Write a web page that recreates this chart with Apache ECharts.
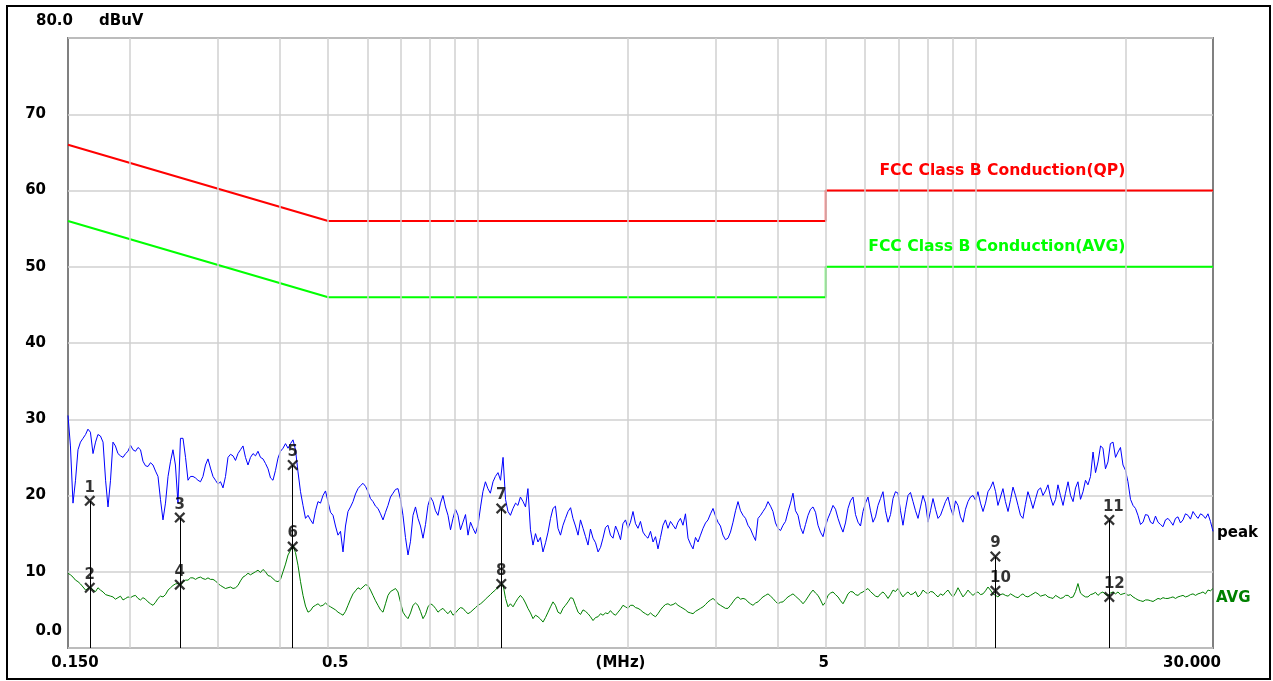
<!DOCTYPE html>
<html>
<head>
<meta charset="utf-8">
<title>Conducted emission scan</title>
<script src="https://cdn.jsdelivr.net/npm/echarts@6/dist/echarts.min.js"></script>
<style>
  html, body { margin: 0; padding: 0; background: #ffffff; }
  #chart { width: 1273px; height: 681px; }
</style>
</head>
<body>
<div id="chart"></div>
<script>
// Sweep frequencies (MHz), main grid
const freqs = [
  0.1500,0.1535,0.1571,0.1608,0.1645,0.1684,0.1723,0.1764,0.1805,0.1847,
  0.1890,0.1935,0.1980,0.2026,0.2074,0.2122,0.2172,0.2223,0.2275,0.2328,
  0.2383,0.2438,0.2495,0.2554,0.2614,0.2675,0.2737,0.2801,0.2867,0.2934,
  0.3003,0.3073,0.3145,0.3219,0.3294,0.3371,0.3450,0.3531,0.3613,0.3698,
  0.3785,0.3873,0.3964,0.4057,0.4152,0.4249,0.4348,0.4450,0.4554,0.4661,
  0.4770,0.4881,0.4996,0.5113,0.5232,0.5355,0.5480,0.5608,0.5740,0.5874,
  0.6011,0.6152,0.6296,0.6444,0.6594,0.6749,0.6907,0.7068,0.7234,0.7403,
  0.7576,0.7754,0.7935,0.8121,0.8311,0.8505,0.8705,0.8908,0.9117,0.9330,
  0.9549,0.9772,1.000,1.023,1.047,1.072,1.097,1.123,1.149,1.176,
  1.203,1.232,1.260,1.290,1.320,1.351,1.383,1.415,1.448,1.482,
  1.517,1.552,1.589,1.626,1.664,1.703,1.743,1.783,1.825,1.868,
  1.912,1.956,2.002,2.049,2.097,2.146,2.196,2.248,2.300,2.354,
  2.409,2.466,2.523,2.582,2.643,2.705,2.768,2.833,2.899,2.967,
  3.036,3.107,3.180,3.255,3.331,3.409,3.488,3.570,3.654,3.739,
  3.827,3.916,4.008,4.102,4.198,4.296,4.397,4.500,4.605,4.713,
  4.823,4.936,5.051,5.170,5.291,5.414,5.541,5.671,5.804,5.939,
  6.078,6.221,6.366,6.515,6.668,6.824,6.984,7.147,7.314,7.486,
  7.661,7.840,8.024,8.211,8.404,8.600,8.802,9.008,9.218,9.434,
  9.655,9.881,10.11,10.35,10.59,10.84,11.09,11.35,11.62,11.89,
  12.17,12.45,12.74,13.04,13.35,13.66,13.98,14.31,14.64,14.99,
  15.34,15.70,16.06,16.44,16.82,17.22,17.62,18.03,18.45,18.89,
  19.33,19.78,20.24,20.72,21.20,21.70,22.21,22.73,23.26,23.80,
  24.36,24.93,25.51,26.11,26.72,27.35,27.99,28.64,29.31,30.00
];

// Sweep frequencies (MHz) lying half a step after each main-grid point
const halfStepFreqs = [
  0.1517,0.1553,0.1589,0.1627,0.1664,0.1704,0.1743,0.1785,0.1826,0.1868,
  0.1912,0.1958,0.2003,0.2050,0.2098,0.2147,0.2197,0.2249,0.2301,0.2355,
  0.2411,0.2466,0.2524,0.2584,0.2644,0.2706,0.2769,0.2834,0.2900,0.2968,
  0.3038,0.3109,0.3182,0.3256,0.3332,0.3410,0.3490,0.3572,0.3655,0.3741,
  0.3829,0.3918,0.4010,0.4104,0.4200,0.4298,0.4399,0.4502,0.4607,0.4715,
  0.4825,0.4938,0.5054,0.5172,0.5293,0.5417,0.5544,0.5673,0.5807,0.5942,
  0.6081,0.6224,0.6369,0.6519,0.6671,0.6828,0.6987,0.7150,0.7318,0.7489,
  0.7664,0.7844,0.8027,0.8215,0.8408,0.8604,0.8806,0.9012,0.9223,0.9439,
  0.9660,0.9886,1.012,1.035,1.059,1.084,1.110,1.136,1.162,1.190,
  1.217,1.246,1.275,1.305,1.335,1.367,1.399,1.431,1.465,1.499,
  1.535,1.570,1.607,1.645,1.683,1.723,1.763,1.804,1.846,1.890,
  1.934,1.979,2.025,2.073,2.121,2.171,2.222,2.274,2.327,2.381,
  2.437,2.495,2.552,2.612,2.674,2.736,2.800,2.866,2.933,3.002,
  3.071,3.143,3.217,3.293,3.370,3.449,3.529,3.612,3.697,3.783,
  3.872,3.962,4.055,4.150,4.247,4.346,4.448,4.552,4.659,4.768,
  4.879,4.993,5.110,5.230,5.353,5.477,5.605,5.737,5.872,6.008,
  6.149,6.293,6.440,6.591,6.746,6.903,7.065,7.230,7.399,7.573,
  7.750,7.931,8.117,8.307,8.502,8.700,8.904,9.113,9.325,9.544,
  9.767,9.996,10.23,10.47,10.71,10.97,11.22,11.48,11.76,12.03,
  12.31,12.59,12.89,13.19,13.51,13.82,14.14,14.48,14.81,15.16,
  15.52,15.88,16.25,16.63,17.02,17.42,17.83,18.24,18.66,19.11,
  19.55,20.01,20.48,20.96,21.45,21.95,22.47,22.99,23.53,24.08,
  24.64,25.22,25.81,26.41,27.03,27.67,28.32,28.97,29.65
];

// Peak detector levels (dBuV) at the main grid
const peakLevels = [
  30.5,19.0,26.0,27.5,28.7,25.5,28.0,27.0,18.5,27.0,
  25.5,25.0,25.8,26.0,26.3,24.5,23.8,24.0,22.5,16.8,
  22.5,26.0,19.0,27.5,22.0,22.5,22.0,22.5,24.8,22.5,
  21.5,21.0,25.0,25.2,25.5,26.5,24.0,25.5,25.8,24.8,
  23.5,22.0,24.9,26.2,26.2,27.3,23.1,18.7,17.4,16.3,
  19.2,20.0,19.2,17.4,14.8,12.6,17.9,19.2,20.9,21.6,
  20.5,19.2,18.3,16.8,18.7,20.3,20.9,17.4,12.2,17.4,
  17.0,14.4,18.7,19.2,17.4,20.0,17.4,17.0,17.4,16.5,
  14.8,15.7,16.1,20.5,20.9,21.8,23.0,25.0,17.9,18.3,
  18.7,19.2,20.9,13.5,13.9,12.6,15.2,18.3,15.7,16.1,
  17.9,17.0,14.8,15.7,13.5,14.4,12.6,14.4,16.1,14.4,
  15.2,16.3,15.7,17.9,15.7,15.2,14.4,13.9,13.0,16.1,
  15.7,16.1,16.5,16.1,14.4,13.0,13.9,15.7,16.8,18.3,
  16.5,14.8,14.4,16.5,19.2,17.4,16.1,14.8,17.0,17.9,
  19.2,17.9,15.7,16.1,17.9,20.3,17.4,15.0,17.4,18.5,
  16.1,14.6,17.0,18.7,17.0,15.2,18.3,19.8,16.5,17.9,
  19.8,16.5,18.7,20.5,16.5,19.6,20.3,16.1,20.0,19.2,
  17.0,20.0,16.5,19.6,17.0,18.3,19.8,17.4,18.7,16.5,
  19.2,20.0,20.5,17.9,20.5,21.8,18.7,20.9,17.9,21.1,
  18.7,17.0,20.5,18.3,20.7,20.0,21.4,18.7,21.4,18.7,
  21.8,19.2,21.8,20.5,21.4,25.7,24.4,26.2,24.4,27.0,
  25.7,24.0,21.8,18.7,17.4,16.5,17.4,16.3,16.5,15.9,
  17.0,16.1,17.2,16.8,17.4,17.9,17.0,17.4,17.6,15.3
];

// Peak detector levels (dBuV) at the half-step points
const peakHalfStep = [
  26.5,22.0,27.0,28.0,28.3,27.0,27.8,22.0,22.0,26.5,
  25.2,25.5,26.6,25.8,26.0,23.9,24.3,23.2,19.5,19.0,
  24.5,24.0,27.5,25.0,22.5,22.3,21.8,24.0,23.6,22.0,
  21.8,22.5,25.4,24.6,26.0,25.0,25.0,25.2,25.0,24.2,
  22.3,23.3,25.8,26.8,26.8,26.0,20.5,17.0,16.8,18.0,
  19.0,20.6,17.8,16.0,15.3,16.0,18.5,20.2,21.3,21.2,
  19.6,18.6,17.6,17.8,19.8,20.8,19.5,14.5,14.0,18.5,
  16.0,16.2,19.8,18.0,19.0,18.5,15.5,18.2,15.5,17.5,
  16.5,15.0,18.5,21.8,20.3,22.5,22.0,19.5,17.4,19.0,
  19.8,18.5,15.5,15.0,14.5,13.8,17.0,18.6,14.8,17.0,
  18.4,16.0,16.8,14.6,15.6,13.8,13.2,15.8,14.8,16.0,
  14.2,16.8,16.5,16.3,16.6,14.7,15.3,14.6,14.5,16.8,
  16.6,15.6,17.0,17.6,13.6,14.5,14.8,16.4,17.6,17.3,
  16.0,14.2,15.2,18.0,18.0,17.0,15.6,14.1,17.4,18.4,
  18.6,16.4,15.4,16.6,19.0,18.0,15.8,16.2,18.2,17.8,
  15.2,16.0,17.8,18.2,16.0,16.4,19.3,17.5,16.0,19.0,
  18.0,17.2,19.6,18.0,17.5,20.5,18.0,18.2,20.4,18.0,
  18.5,19.0,18.0,18.2,17.4,19.2,18.4,19.3,17.2,18.2,
  19.8,19.4,19.0,19.0,21.0,20.5,19.8,19.2,19.5,20.0,
  17.4,18.8,19.5,19.5,21.0,20.6,19.8,19.5,20.0,20.3,
  20.0,21.0,19.5,22.0,22.5,23.0,26.5,23.5,26.8,25.0,
  26.3,23.3,19.5,18.3,16.2,17.5,16.5,17.3,16.2,16.8,
  16.6,17.0,16.4,17.6,16.9,17.4,17.6,17.0,16.6
];

// Average detector levels (dBuV) at the main grid
const avgLevels = [
  9.8,9.3,8.7,8.0,7.8,7.6,7.9,7.35,6.9,6.7,
  6.6,6.3,6.7,6.8,6.5,6.6,6.05,5.6,6.5,6.7,
  7.6,8.2,8.45,8.7,8.9,9.2,9.2,9.1,9.2,9.0,
  8.45,8.0,7.9,7.8,8.2,9.3,9.8,9.8,10.2,10.3,
  9.5,9.1,8.7,10.0,12.2,13.5,10.85,6.9,4.7,5.4,
  5.8,5.6,5.6,5.2,4.7,4.3,5.6,7.1,7.9,8.0,
  8.2,6.9,5.6,4.7,6.9,7.6,7.35,4.7,3.85,5.6,
  5.6,3.85,5.4,5.6,4.7,5.2,4.5,4.3,5.0,5.2,
  4.5,5.0,5.6,6.05,6.7,7.35,8.0,8.3,5.4,5.4,
  6.5,6.5,5.2,3.85,4.1,3.4,4.7,6.05,4.7,5.2,
  6.05,6.5,4.7,5.0,4.5,3.6,4.1,4.3,4.5,4.5,
  4.7,5.6,5.2,5.6,5.2,4.7,4.3,4.3,4.5,5.4,
  5.8,5.7,5.6,5.2,4.7,4.5,5.0,5.4,6.05,6.5,
  5.8,5.4,5.2,6.05,6.7,6.5,6.05,5.6,6.05,6.7,
  7.1,6.5,5.8,6.05,6.7,7.1,6.5,5.8,6.7,7.6,
  6.9,5.6,6.9,7.35,6.7,5.8,7.1,7.35,6.9,7.35,
  7.8,7.1,6.7,7.35,6.5,7.6,7.8,6.7,7.35,7.1,
  6.7,7.6,7.1,7.35,6.7,6.9,7.6,6.7,7.9,6.7,
  7.6,6.9,7.35,7.1,8.0,7.1,6.7,7.1,6.8,6.9,
  6.6,7.1,6.7,7.1,7.1,6.9,6.7,6.5,6.7,6.6,
  6.9,6.7,8.45,6.9,6.7,7.1,6.9,7.35,6.9,7.35,
  7.35,7.1,6.9,6.7,6.3,6.1,6.3,6.1,6.5,6.6,
  6.5,6.7,6.7,6.9,6.8,7.1,7.1,7.35,7.6,7.8
];

// Average detector levels (dBuV) at the half-step points
const avgHalfStep = [
  9.6,8.9,8.4,7.6,8.0,7.4,7.6,7.0,6.8,6.4,
  6.8,6.5,6.6,6.9,6.3,6.4,5.8,6.0,6.8,7.0,
  7.9,8.4,8.2,8.9,9.2,9.0,9.3,9.0,9.0,8.8,
  8.2,7.8,8.0,7.9,8.8,9.5,9.6,10.0,9.9,10.0,
  9.4,8.8,9.0,11.0,12.8,12.5,8.7,5.5,4.9,5.6,
  5.5,5.9,5.4,5.0,4.5,4.8,6.4,7.5,7.7,8.3,
  7.6,6.2,5.0,5.8,7.4,7.8,6.0,4.2,4.6,5.9,
  4.8,4.4,5.8,5.2,5.0,4.8,4.9,4.6,5.3,4.8,
  4.7,5.3,5.8,6.4,7.0,7.6,8.2,6.5,5.8,6.0,
  6.9,5.9,4.6,4.3,3.8,4.0,5.4,5.6,4.5,5.6,
  6.6,5.6,4.4,4.8,4.1,4.0,4.5,4.6,4.9,4.3,
  5.1,5.4,5.6,5.3,5.0,4.5,4.6,4.1,5.0,5.7,
  5.6,5.9,5.4,5.0,4.6,4.8,5.2,5.7,6.3,6.2,
  5.6,5.2,5.6,6.5,6.4,6.4,5.8,5.9,6.4,6.9,
  6.8,6.1,6.0,6.4,6.9,6.8,6.2,6.2,7.2,7.2,
  6.3,6.0,7.2,7.0,6.2,6.4,7.4,7.0,7.2,7.6,
  7.4,6.8,7.1,7.0,7.0,7.4,7.2,7.1,7.0,7.4,
  7.0,7.3,7.4,7.0,7.1,7.3,7.1,7.2,7.3,7.1,
  7.2,7.2,7.0,7.5,7.6,6.9,7.0,6.9,7.1,6.7,
  6.9,6.8,6.9,7.3,6.8,7.0,6.6,6.9,6.5,6.9,
  6.6,7.4,7.2,6.7,7.0,7.3,7.2,7.0,7.2,7.1,
  7.0,7.2,7.0,6.5,6.2,6.3,6.2,6.3,6.4,6.5,
  6.6,6.5,6.8,6.7,7.0,6.9,7.2,7.1,7.5
];

// FCC Class B conducted limits (dBuV); corner frequencies in MHz
const limitFreqs = [0.15, 0.5, 5, 5, 30];
const qpLimit    = [66, 56, 56, 60, 60];
const avgLimit   = [56, 46, 46, 50, 50];

// Numbered markers 1..12 (MHz, dBuV)
const markerFreqs  = [0.1659, 0.1659, 0.2516, 0.2516, 0.4243, 0.4243, 1.114, 1.114, 10.96, 10.96, 18.57, 18.57];
const markerLevels = [19.3, 7.9, 17.1, 8.3, 24.0, 13.3, 18.3, 8.4, 12.0, 7.5, 16.8, 6.7];

// Vertical grid positions on the log frequency axis (MHz)
const gridFreqs = [0.2, 0.3, 0.4, 0.5, 0.6, 0.7, 0.8, 0.9, 1, 2, 3, 4, 5, 6, 7, 8, 9, 10, 20];

// Axis captions
const xLabelFreqs = [0.15, 0.5, 5, 30];
const xLabelTexts = ['0.150', '0.5', '5', '30.000'];
const xUnitText = '(MHz)';
const yTopText = '80.0';
const yBottomText = '0.0';
const yUnitText = 'dBuV';
const qpLimitName = 'FCC Class B Conduction(QP)';
const avgLimitName = 'FCC Class B Conduction(AVG)';

(function () {
  const FONT_FAMILY = '"DejaVu Sans", "Liberation Sans", sans-serif';
  const LABEL_FONT = 'bold 15px ' + FONT_FAMILY;
  const LIMIT_FONT = 'bold 15.6px ' + FONT_FAMILY;

  const zip = (xs, ys) => xs.map((x, i) => [x, ys[i]]);

  // Main-grid and half-step readings merged in sweep order
  function sweep(mainLevels, halfLevels) {
    const out = [];
    freqs.forEach((f, i) => {
      out.push([f, mainLevels[i]]);
      if (i < halfStepFreqs.length) out.push([halfStepFreqs[i], halfLevels[i]]);
    });
    return out;
  }

  const chart = echarts.init(document.getElementById('chart'), null, { renderer: 'canvas' });

  const crossPath = 'path://M0,1.75L1.75,0L6,4.25L10.25,0L12,1.75L7.75,6L12,10.25L10.25,12L6,7.75L1.75,12L0,10.25L4.25,6Z';
  const markerLabelOffsets = [[0,0],[0,0],[0,0],[0,0],[0,0],[0,0],[0,0],[0,0],[0,0],[5,0],[4,0],[5,0]];

  chart.setOption({
    animation: false,
    backgroundColor: '#ffffff',
    grid: {
      left: 68, top: 38, right: 60, bottom: 33,
      show: true, borderColor: '#808080', borderWidth: 2,
      backgroundColor: 'transparent',
      containLabel: false, outerBoundsMode: 'none'
    },
    xAxis: {
      type: 'log', logBase: 10, min: 0.15, max: 30,
      axisLine: { show: false }, axisTick: { show: false },
      axisLabel: { show: false }, splitLine: { show: false }, minorSplitLine: { show: false }
    },
    yAxis: {
      type: 'value', min: 0, max: 80, interval: 10,
      axisLine: { show: false }, axisTick: { show: false },
      axisLabel: {
        show: true, showMinLabel: false, showMaxLabel: false, margin: 22,
        color: '#000000', fontFamily: FONT_FAMILY, fontWeight: 'bold', fontSize: 15
      },
      splitLine: { show: true, lineStyle: { color: '#d0d0d0', width: 1.5 } }
    },
    series: [
      {
        name: 'grid', type: 'line', data: [], z: 1, silent: true,
        markLine: {
          silent: true, symbol: ['none', 'none'], animation: false,
          label: { show: false },
          lineStyle: { color: '#d0d0d0', width: 1.5, type: 'solid' },
          emphasis: { disabled: true },
          data: gridFreqs.map(f => ({ xAxis: f }))
        }
      },
      {
        name: 'QP limit', type: 'line', data: zip(limitFreqs, qpLimit), z: 3,
        showSymbol: false, silent: true,
        lineStyle: { color: '#ff0000', width: 2 }, itemStyle: { color: '#ff0000' }
      },
      {
        name: 'AVG limit', type: 'line', data: zip(limitFreqs, avgLimit), z: 3,
        showSymbol: false, silent: true,
        lineStyle: { color: '#00ff00', width: 2 }, itemStyle: { color: '#00ff00' }
      },
      {
        name: 'peak', type: 'line', data: sweep(peakLevels, peakHalfStep), z: 4,
        showSymbol: false, silent: true,
        lineStyle: { color: '#0000ff', width: 1 }, itemStyle: { color: '#0000ff' },
        endLabel: {
          show: true, formatter: 'peak', distance: 4, offset: [0, 2],
          color: '#000000', fontFamily: FONT_FAMILY, fontWeight: 'bold', fontSize: 15
        }
      },
      {
        name: 'AVG', type: 'line', data: sweep(avgLevels, avgHalfStep), z: 4,
        showSymbol: false, silent: true,
        lineStyle: { color: '#008000', width: 1 }, itemStyle: { color: '#008000' },
        endLabel: {
          show: true, formatter: 'AVG', distance: 3, offset: [0, 10],
          color: '#008000', fontFamily: FONT_FAMILY, fontWeight: 'bold', fontSize: 15
        }
      },
      {
        name: 'markers', type: 'scatter', z: 6, silent: true,
        data: markerFreqs.map((f, i) => ({
          value: [f, markerLevels[i]],
          label: { offset: markerLabelOffsets[i] }
        })),
        symbol: crossPath, symbolSize: 11,
        itemStyle: { color: '#000000' },
        label: {
          show: true, position: 'top', distance: 0,
          formatter: p => String(p.dataIndex + 1),
          color: '#000000', fontFamily: FONT_FAMILY, fontWeight: 'bold', fontSize: 15
        },
        markLine: {
          silent: true, symbol: ['none', 'none'], animation: false,
          label: { show: false },
          lineStyle: { color: '#000000', width: 1, type: 'solid' },
          emphasis: { disabled: true },
          data: markerFreqs.map((f, i) => [
            { coord: [f, markerLevels[i]] },
            { coord: [f, 0] }
          ])
        }
      }
    ]
  });

  // Axis captions and limit names, placed from the chart's own scales
  function toPx(f, v) { return chart.convertToPixel({ gridIndex: 0 }, [f, v]); }
  function textEl(text, x, y, align, color, font) {
    return {
      type: 'text', z: 100, silent: true,
      style: {
        text: text, x: x, y: y, font: font || LABEL_FONT, fill: color || '#000000',
        textAlign: align, align: align, textVerticalAlign: 'middle', verticalAlign: 'middle'
      }
    };
  }

  const topPx = toPx(0.15, 80);
  const bottomPx = toPx(0.15, 0);
  const graphics = [
    {
      type: 'rect', z: 0, silent: true,
      shape: { x: 7, y: 6, width: 1263, height: 673 },
      style: { fill: 'none', stroke: '#000000', lineWidth: 2 }
    },
    textEl(yTopText, topPx[0] + 5, topPx[1] - 17, 'right'),
    textEl(yUnitText, topPx[0] + 31, topPx[1] - 17, 'left'),
    textEl(yBottomText, bottomPx[0] - 6, bottomPx[1] - 17, 'right')
  ];
  const xLabelShift = [7, 7, -2, -21];
  xLabelFreqs.forEach((f, i) => {
    const p = toPx(f, 0);
    graphics.push(textEl(xLabelTexts[i], p[0] + xLabelShift[i], p[1] + 15, 'center'));
  });
  graphics.push(textEl(xUnitText, (toPx(0.15, 0)[0] + toPx(30, 0)[0]) / 2 - 20, bottomPx[1] + 15, 'center'));

  const qpAt = toPx(20, 60);
  const avgAt = toPx(20, 50);
  graphics.push(textEl(qpLimitName, qpAt[0], qpAt[1] - 20, 'right', '#ff0000', LIMIT_FONT));
  graphics.push(textEl(avgLimitName, avgAt[0], avgAt[1] - 20, 'right', '#00ff00', LIMIT_FONT));

  chart.setOption({ graphic: graphics });
})();
</script>
</body>
</html>
